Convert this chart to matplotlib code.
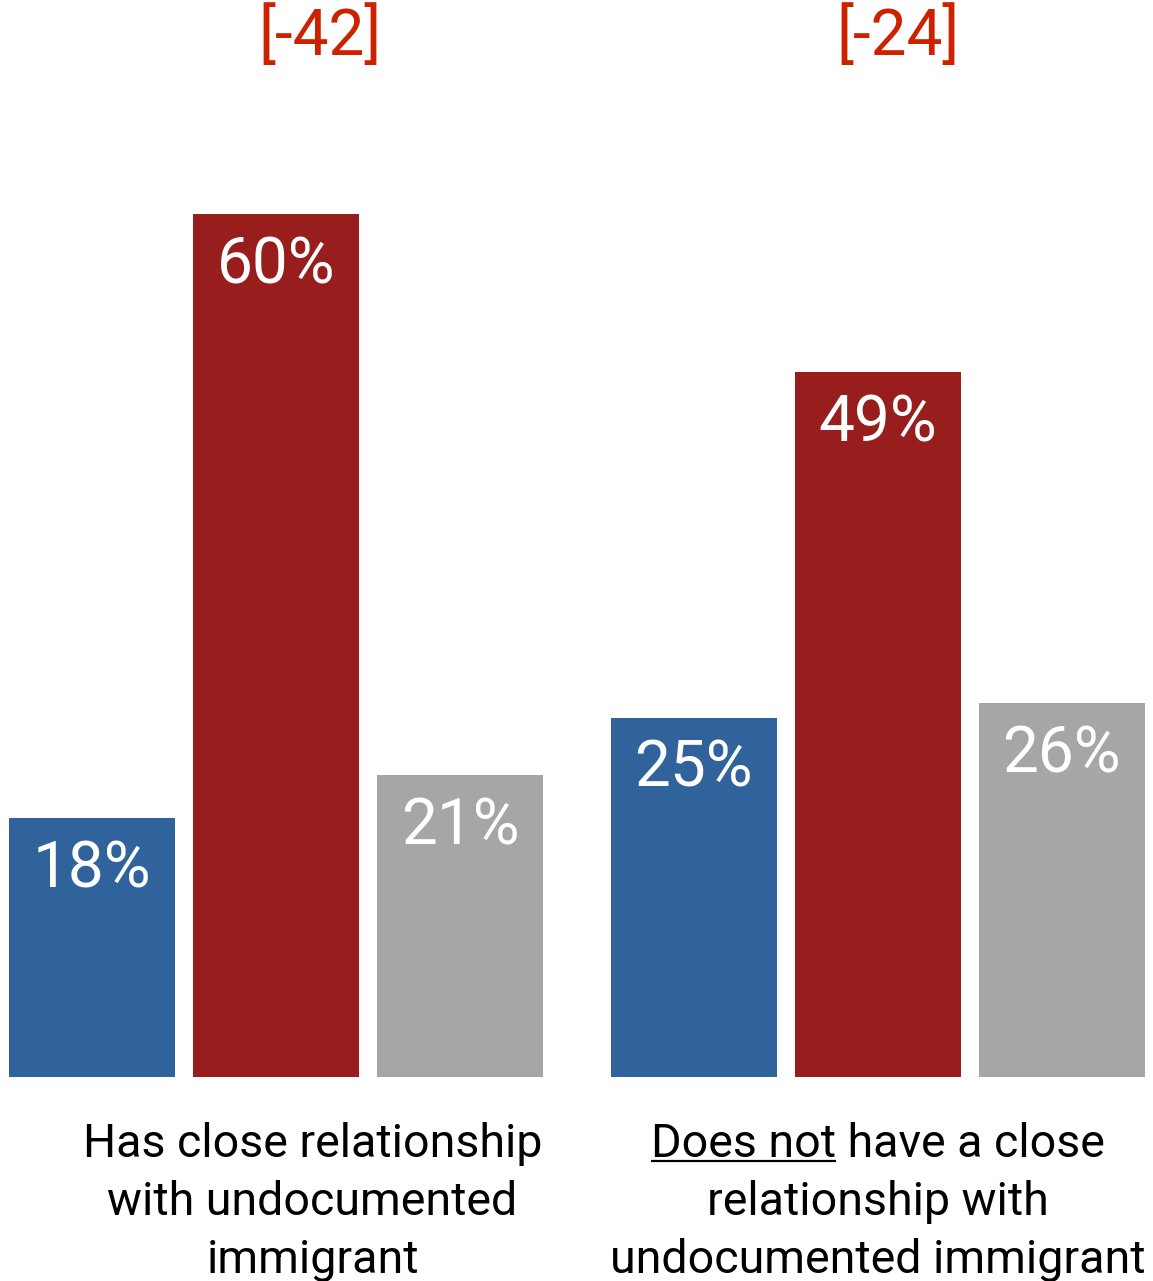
import matplotlib
matplotlib.use("Agg")
import matplotlib.pyplot as plt

# survey shares per group: dem / rep / other
groups = ["has", "has_not"]
blue_vals = [18, 25]
red_vals = [60, 49]
gray_vals = [21, 26]
gaps = ["[-42]", "[-24]"]
label_lines = [
    ["Has close relationship", "with undocumented", "immigrant"],
    ["Does not have a close", "relationship with", "undocumented immigrant"],
]

BLUE = "#30639B"
RED = "#981D1D"
GRAY = "#A6A6A6"
GAP_RED = "#CC2200"

plt.rcParams["font.family"] = ["Roboto", "DejaVu Sans"]

W, H = 1153, 1281
fig = plt.figure(figsize=(W / 100, H / 100), dpi=100)
ax = fig.add_axes([0, 0, 1, 1])

bar_w = 1.0
step = 1.108
group_step = 3.625
px_x = 166.0          # pixels per x unit
px_y = 14.38          # pixels per percent
ax.set_xlim(-276 / px_x, -276 / px_x + W / px_x)
ax.set_ylim(-204 / px_y, -204 / px_y + H / px_y)
ax.axis("off")

series = [(blue_vals, BLUE), (red_vals, RED), (gray_vals, GRAY)]
for g in range(len(groups)):
    for i, (vals, col) in enumerate(series):
        x = g * group_step + (i - 1) * step
        v = vals[g]
        ax.bar(x, v, width=bar_w, color=col, linewidth=0)
        ax.text(x, v - 4.8, f"{v}%", color="white", fontsize=46,
                ha="center", va="baseline")

gap_x = [0.265, group_step + 0.12]
for g in range(len(groups)):
    ax.text(gap_x[g], 71.1, gaps[g], color=GAP_RED, fontsize=46,
            ha="center", va="baseline")

label_x = [0.22, group_step]
for g, lines in enumerate(label_lines):
    for j, line in enumerate(lines):
        ax.text(label_x[g], -5.56 - j * 4.03, line, color="black",
                fontsize=33.5, ha="center", va="baseline")

# underline "Does not" in the second group's first line
fig.canvas.draw()
r = fig.canvas.get_renderer()
first = [t for t in ax.texts if t.get_text() == label_lines[1][0]][0]
ext = first.get_window_extent(r)
probe = ax.text(0, 0, "Does not", fontsize=33.5)
pw = probe.get_window_extent(r).width
probe.remove()
inv = ax.transData.inverted()
x0, _ = inv.transform((ext.x0, 0))
x1, _ = inv.transform((ext.x0 + pw, 0))
ax.plot([x0, x1], [-5.56 - 0.25, -5.56 - 0.25], color="black", lw=1.6,
        solid_capstyle="butt")

fig.savefig("out.png", dpi=100)
